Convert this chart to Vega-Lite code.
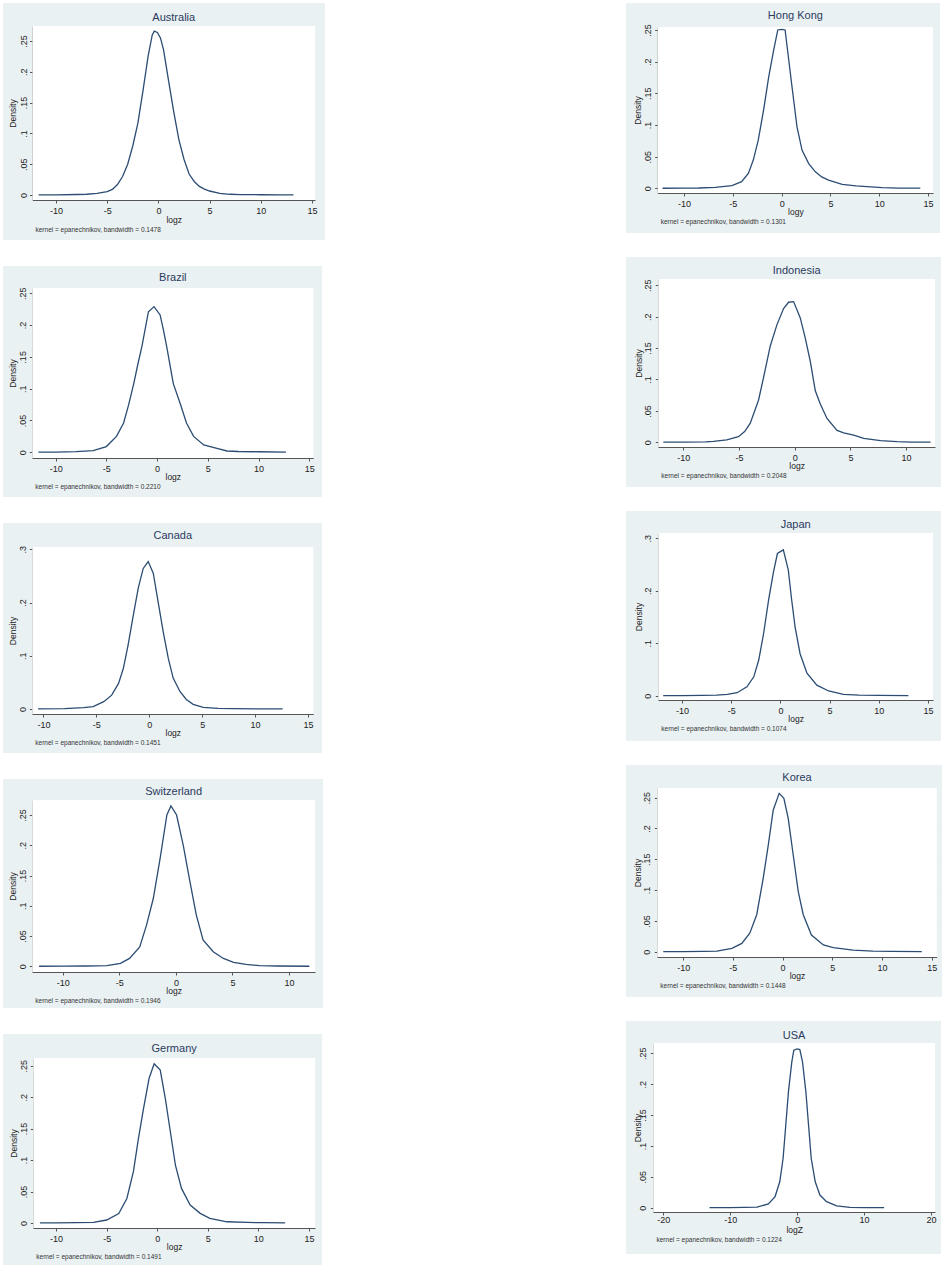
{
"$schema": "https://vega.github.io/schema/vega-lite/v6.json",
"padding": {"left": 3, "top": 3, "right": 0, "bottom": 0},
"background": "white",
"config": {
  "view": {"fill": "#eaf1f3", "stroke": null},
  "font": "Liberation Sans",
  "line": {"color": "#2b4c73", "strokeWidth": 1.3},
  "rect": {"color": "white"},
  "title": {"font": "Liberation Sans", "fontSize": 11, "fontWeight": "normal", "color": "#2a3b5e", "anchor": "middle", "frame": "group", "baseline": "alphabetic"},
  "axis": {"labelFont": "Liberation Sans", "titleFont": "Liberation Sans", "labelColor": "#222222", "titleColor": "#222222", "domainColor": "#555555", "tickColor": "#555555", "gridColor": "#e2eaed", "titleFontWeight": "normal", "labelFontSize": 9, "titleFontSize": 8.5, "tickSize": 3, "labelFlush": false, "labelOverlap": false, "zindex": 1}
},
"datasets": {"d": [
{"c":"Australia","x":-11.7,"y":0.0001},{"c":"Australia","x":-10,"y":0.0003},{"c":"Australia","x":-8,"y":0.0008},{"c":"Australia","x":-7,"y":0.0012},{"c":"Australia","x":-6,"y":0.0025},{"c":"Australia","x":-5,"y":0.0055},{"c":"Australia","x":-4.5,"y":0.009},{"c":"Australia","x":-4,"y":0.017},{"c":"Australia","x":-3.5,"y":0.03},{"c":"Australia","x":-3,"y":0.05},{"c":"Australia","x":-2.5,"y":0.08},{"c":"Australia","x":-2,"y":0.117},{"c":"Australia","x":-1.5,"y":0.17},{"c":"Australia","x":-1,"y":0.226},{"c":"Australia","x":-0.6,"y":0.26},{"c":"Australia","x":-0.4,"y":0.266},{"c":"Australia","x":-0.1,"y":0.264},{"c":"Australia","x":0.2,"y":0.255},{"c":"Australia","x":0.5,"y":0.236},{"c":"Australia","x":1,"y":0.185},{"c":"Australia","x":1.5,"y":0.135},{"c":"Australia","x":2,"y":0.09},{"c":"Australia","x":2.5,"y":0.058},{"c":"Australia","x":3,"y":0.034},{"c":"Australia","x":3.5,"y":0.022},{"c":"Australia","x":4,"y":0.014},{"c":"Australia","x":4.5,"y":0.0095},{"c":"Australia","x":5,"y":0.0065},{"c":"Australia","x":6,"y":0.0028},{"c":"Australia","x":7,"y":0.0012},{"c":"Australia","x":8,"y":0.0007},{"c":"Australia","x":10,"y":0.0004},{"c":"Australia","x":12,"y":0.0002},{"c":"Australia","x":13.2,"y":0.0001},
{"c":"Hong Kong","x":-12.2,"y":0.0001},{"c":"Hong Kong","x":-10,"y":0.0003},{"c":"Hong Kong","x":-8.5,"y":0.0005},{"c":"Hong Kong","x":-6.8,"y":0.0016},{"c":"Hong Kong","x":-5.1,"y":0.0042},{"c":"Hong Kong","x":-4.1,"y":0.0105},{"c":"Hong Kong","x":-3.4,"y":0.024},{"c":"Hong Kong","x":-2.9,"y":0.045},{"c":"Hong Kong","x":-2.4,"y":0.076},{"c":"Hong Kong","x":-1.85,"y":0.124},{"c":"Hong Kong","x":-1.33,"y":0.176},{"c":"Hong Kong","x":-0.82,"y":0.218},{"c":"Hong Kong","x":-0.4,"y":0.25},{"c":"Hong Kong","x":0,"y":0.251},{"c":"Hong Kong","x":0.35,"y":0.25},{"c":"Hong Kong","x":0.72,"y":0.203},{"c":"Hong Kong","x":1.06,"y":0.16},{"c":"Hong Kong","x":1.57,"y":0.097},{"c":"Hong Kong","x":2.09,"y":0.06},{"c":"Hong Kong","x":2.77,"y":0.039},{"c":"Hong Kong","x":3.45,"y":0.026},{"c":"Hong Kong","x":4.1,"y":0.018},{"c":"Hong Kong","x":4.8,"y":0.013},{"c":"Hong Kong","x":6.2,"y":0.0063},{"c":"Hong Kong","x":7.6,"y":0.0037},{"c":"Hong Kong","x":10.3,"y":0.001},{"c":"Hong Kong","x":12,"y":0.0004},{"c":"Hong Kong","x":14.2,"y":0.0002},
{"c":"Brazil","x":-11.7,"y":0.0001},{"c":"Brazil","x":-10,"y":0.0003},{"c":"Brazil","x":-8,"y":0.001},{"c":"Brazil","x":-6.3,"y":0.0026},{"c":"Brazil","x":-5,"y":0.009},{"c":"Brazil","x":-4,"y":0.025},{"c":"Brazil","x":-3.3,"y":0.046},{"c":"Brazil","x":-2.8,"y":0.075},{"c":"Brazil","x":-2.3,"y":0.108},{"c":"Brazil","x":-1.9,"y":0.138},{"c":"Brazil","x":-1.5,"y":0.166},{"c":"Brazil","x":-1.1,"y":0.2},{"c":"Brazil","x":-0.85,"y":0.221},{"c":"Brazil","x":-0.3,"y":0.229},{"c":"Brazil","x":0.3,"y":0.216},{"c":"Brazil","x":0.63,"y":0.192},{"c":"Brazil","x":0.95,"y":0.166},{"c":"Brazil","x":1.6,"y":0.108},{"c":"Brazil","x":2.27,"y":0.077},{"c":"Brazil","x":2.9,"y":0.046},{"c":"Brazil","x":3.6,"y":0.025},{"c":"Brazil","x":4.6,"y":0.0115},{"c":"Brazil","x":5.9,"y":0.006},{"c":"Brazil","x":6.9,"y":0.002},{"c":"Brazil","x":8,"y":0.0012},{"c":"Brazil","x":10,"y":0.0008},{"c":"Brazil","x":12.7,"y":0.0002},
{"c":"Indonesia","x":-11.8,"y":0.0002},{"c":"Indonesia","x":-10,"y":0.0003},{"c":"Indonesia","x":-8,"y":0.0008},{"c":"Indonesia","x":-7.3,"y":0.0016},{"c":"Indonesia","x":-6.1,"y":0.0037},{"c":"Indonesia","x":-5.05,"y":0.009},{"c":"Indonesia","x":-4.5,"y":0.017},{"c":"Indonesia","x":-4,"y":0.03},{"c":"Indonesia","x":-3.25,"y":0.067},{"c":"Indonesia","x":-2.8,"y":0.103},{"c":"Indonesia","x":-2.2,"y":0.153},{"c":"Indonesia","x":-1.6,"y":0.187},{"c":"Indonesia","x":-1,"y":0.213},{"c":"Indonesia","x":-0.55,"y":0.223},{"c":"Indonesia","x":-0.1,"y":0.224},{"c":"Indonesia","x":0.5,"y":0.198},{"c":"Indonesia","x":0.95,"y":0.166},{"c":"Indonesia","x":1.4,"y":0.129},{"c":"Indonesia","x":1.85,"y":0.082},{"c":"Indonesia","x":2.3,"y":0.061},{"c":"Indonesia","x":2.9,"y":0.038},{"c":"Indonesia","x":3.8,"y":0.019},{"c":"Indonesia","x":4.4,"y":0.015},{"c":"Indonesia","x":5.3,"y":0.0115},{"c":"Indonesia","x":6.2,"y":0.0063},{"c":"Indonesia","x":7.7,"y":0.0026},{"c":"Indonesia","x":9.2,"y":0.001},{"c":"Indonesia","x":10.5,"y":0.0004},{"c":"Indonesia","x":12.2,"y":0.0002},
{"c":"Canada","x":-10.5,"y":0.0001},{"c":"Canada","x":-8,"y":0.0008},{"c":"Canada","x":-6.2,"y":0.0025},{"c":"Canada","x":-5.3,"y":0.0044},{"c":"Canada","x":-4.3,"y":0.0138},{"c":"Canada","x":-3.55,"y":0.026},{"c":"Canada","x":-2.9,"y":0.048},{"c":"Canada","x":-2.45,"y":0.076},{"c":"Canada","x":-2,"y":0.12},{"c":"Canada","x":-1.5,"y":0.177},{"c":"Canada","x":-1.04,"y":0.227},{"c":"Canada","x":-0.57,"y":0.264},{"c":"Canada","x":-0.1,"y":0.277},{"c":"Canada","x":0.38,"y":0.255},{"c":"Canada","x":0.85,"y":0.2},{"c":"Canada","x":1.32,"y":0.145},{"c":"Canada","x":1.8,"y":0.095},{"c":"Canada","x":2.26,"y":0.058},{"c":"Canada","x":2.9,"y":0.033},{"c":"Canada","x":3.5,"y":0.018},{"c":"Canada","x":4.15,"y":0.0088},{"c":"Canada","x":5.1,"y":0.003},{"c":"Canada","x":6.5,"y":0.0012},{"c":"Canada","x":8,"y":0.0006},{"c":"Canada","x":10,"y":0.0003},{"c":"Canada","x":12.6,"y":0.0001},
{"c":"Japan","x":-11.9,"y":0.0001},{"c":"Japan","x":-10,"y":0.0002},{"c":"Japan","x":-8,"y":0.0005},{"c":"Japan","x":-6.5,"y":0.001},{"c":"Japan","x":-5.4,"y":0.0025},{"c":"Japan","x":-4.4,"y":0.0057},{"c":"Japan","x":-3.4,"y":0.017},{"c":"Japan","x":-2.7,"y":0.036},{"c":"Japan","x":-2.2,"y":0.068},{"c":"Japan","x":-1.7,"y":0.119},{"c":"Japan","x":-1.2,"y":0.182},{"c":"Japan","x":-0.7,"y":0.236},{"c":"Japan","x":-0.3,"y":0.271},{"c":"Japan","x":0.3,"y":0.278},{"c":"Japan","x":0.8,"y":0.24},{"c":"Japan","x":1.15,"y":0.182},{"c":"Japan","x":1.5,"y":0.13},{"c":"Japan","x":2,"y":0.08},{"c":"Japan","x":2.7,"y":0.043},{"c":"Japan","x":3.7,"y":0.02},{"c":"Japan","x":4.9,"y":0.009},{"c":"Japan","x":6.4,"y":0.0025},{"c":"Japan","x":8,"y":0.001},{"c":"Japan","x":10,"y":0.0005},{"c":"Japan","x":13,"y":0.0002},
{"c":"Switzerland","x":-12.1,"y":0.0001},{"c":"Switzerland","x":-10,"y":0.0002},{"c":"Switzerland","x":-8,"y":0.0005},{"c":"Switzerland","x":-6.1,"y":0.001},{"c":"Switzerland","x":-4.9,"y":0.005},{"c":"Switzerland","x":-4.1,"y":0.013},{"c":"Switzerland","x":-3.2,"y":0.032},{"c":"Switzerland","x":-2.6,"y":0.068},{"c":"Switzerland","x":-2,"y":0.112},{"c":"Switzerland","x":-1.4,"y":0.178},{"c":"Switzerland","x":-0.8,"y":0.25},{"c":"Switzerland","x":-0.44,"y":0.265},{"c":"Switzerland","x":0.06,"y":0.25},{"c":"Switzerland","x":0.65,"y":0.2},{"c":"Switzerland","x":1.24,"y":0.14},{"c":"Switzerland","x":1.8,"y":0.085},{"c":"Switzerland","x":2.4,"y":0.0435},{"c":"Switzerland","x":3.3,"y":0.024},{"c":"Switzerland","x":4.2,"y":0.013},{"c":"Switzerland","x":5.1,"y":0.0066},{"c":"Switzerland","x":6.2,"y":0.0033},{"c":"Switzerland","x":7.4,"y":0.0011},{"c":"Switzerland","x":9,"y":0.0005},{"c":"Switzerland","x":11.8,"y":0.0001},
{"c":"Korea","x":-12,"y":0.0001},{"c":"Korea","x":-10,"y":0.0002},{"c":"Korea","x":-8,"y":0.0005},{"c":"Korea","x":-6.6,"y":0.001},{"c":"Korea","x":-5.1,"y":0.0054},{"c":"Korea","x":-4.1,"y":0.0135},{"c":"Korea","x":-3.3,"y":0.03},{"c":"Korea","x":-2.6,"y":0.06},{"c":"Korea","x":-1.95,"y":0.119},{"c":"Korea","x":-1.44,"y":0.173},{"c":"Korea","x":-0.94,"y":0.23},{"c":"Korea","x":-0.34,"y":0.257},{"c":"Korea","x":0.13,"y":0.249},{"c":"Korea","x":0.57,"y":0.216},{"c":"Korea","x":1.07,"y":0.157},{"c":"Korea","x":1.58,"y":0.097},{"c":"Korea","x":2.08,"y":0.06},{"c":"Korea","x":2.9,"y":0.027},{"c":"Korea","x":4.1,"y":0.011},{"c":"Korea","x":5.1,"y":0.0065},{"c":"Korea","x":7.1,"y":0.0027},{"c":"Korea","x":9.1,"y":0.001},{"c":"Korea","x":11,"y":0.0005},{"c":"Korea","x":14,"y":0.0002},
{"c":"Germany","x":-11.6,"y":0.0001},{"c":"Germany","x":-10,"y":0.0002},{"c":"Germany","x":-8,"y":0.0005},{"c":"Germany","x":-6.3,"y":0.001},{"c":"Germany","x":-5,"y":0.0048},{"c":"Germany","x":-3.8,"y":0.015},{"c":"Germany","x":-3,"y":0.039},{"c":"Germany","x":-2.35,"y":0.082},{"c":"Germany","x":-1.85,"y":0.135},{"c":"Germany","x":-1.35,"y":0.182},{"c":"Germany","x":-0.8,"y":0.23},{"c":"Germany","x":-0.3,"y":0.253},{"c":"Germany","x":0.3,"y":0.243},{"c":"Germany","x":0.8,"y":0.198},{"c":"Germany","x":1.3,"y":0.145},{"c":"Germany","x":1.8,"y":0.092},{"c":"Germany","x":2.4,"y":0.055},{"c":"Germany","x":3.26,"y":0.0286},{"c":"Germany","x":4.25,"y":0.0154},{"c":"Germany","x":5.2,"y":0.0074},{"c":"Germany","x":6.9,"y":0.002},{"c":"Germany","x":8.9,"y":0.001},{"c":"Germany","x":10.5,"y":0.0005},{"c":"Germany","x":12.65,"y":0.0002},
{"c":"USA","x":-13.1,"y":0.0001},{"c":"USA","x":-10,"y":0.0002},{"c":"USA","x":-8,"y":0.0004},{"c":"USA","x":-6,"y":0.001},{"c":"USA","x":-4.3,"y":0.006},{"c":"USA","x":-3.3,"y":0.018},{"c":"USA","x":-2.6,"y":0.042},{"c":"USA","x":-2.1,"y":0.08},{"c":"USA","x":-1.7,"y":0.134},{"c":"USA","x":-1.3,"y":0.188},{"c":"USA","x":-0.8,"y":0.236},{"c":"USA","x":-0.5,"y":0.255},{"c":"USA","x":0,"y":0.257},{"c":"USA","x":0.4,"y":0.256},{"c":"USA","x":0.8,"y":0.236},{"c":"USA","x":1.3,"y":0.188},{"c":"USA","x":1.7,"y":0.134},{"c":"USA","x":2.1,"y":0.08},{"c":"USA","x":2.7,"y":0.042},{"c":"USA","x":3.4,"y":0.0205},{"c":"USA","x":4.4,"y":0.0097},{"c":"USA","x":5.9,"y":0.003},{"c":"USA","x":7.9,"y":0.0005},{"c":"USA","x":10,"y":0.0002},{"c":"USA","x":13,"y":0.0001}
]},
"spacing": 301,
"hconcat": [
{"spacing": 26, "vconcat": [
{"width": 322, "height": 237, "title": {"text": "Australia", "offset": -19.7, "dx": 9.75},
 "resolve": {"axis": {"x": "independent", "y": "independent"}},
 "layer": [
  {"data": {"values": [{}]}, "mark": {"type": "rect"},
   "encoding": {"x": {"datum": -12.3, "type": "quantitative", "axis": {"orient": "bottom", "offset": -40, "title": "kernel = epanechnikov, bandwidth = 0.1478", "labels": false, "ticks": false, "domain": false, "grid": false, "titleX": 32, "titleY": 31, "titleAlign": "left", "titleBaseline": "alphabetic", "titleFontSize": 6.5, "titleColor": "#333333"}},
    "x2": {"datum": 15.3}, "y": {"datum": -0.0081, "type": "quantitative", "axis": null}, "y2": {"datum": 0.2744}}},
  {"data": {"name": "d"}, "transform": [{"filter": "datum.c === 'Australia'"}], "mark": {"type": "line"},
   "encoding": {
    "x": {"field": "x", "type": "quantitative", "scale": {"domain": [-12.3, 15.3], "range": [29.5, 312], "nice": false, "zero": false}, "axis": {"orient": "bottom", "offset": -40, "values": [-10,-5,0,5,10,15], "labelExpr": "'' + datum.value", "labelPadding": 3.5, "grid": false, "title": "logz", "titleY": 22, "titleBaseline": "alphabetic"}},
    "y": {"field": "y", "type": "quantitative", "scale": {"domain": [-0.0081, 0.2744], "range": [197, 23], "nice": false, "zero": false}, "axis": {"orient": "left", "offset": -29.5, "values": [0,0.05,0.1,0.15,0.2,0.25], "labelExpr": "datum.value === 0 ? '0' : replace(format(datum.value, '.2~f'), '0.', '.')", "labelAngle": -90, "labelAlign": "center", "labelBaseline": "alphabetic", "labelPadding": 3.5, "grid": true, "title": "Density", "titleX": -17, "titleBaseline": "alphabetic"}}}}
 ]},
{"width": 319, "height": 231, "title": {"text": "Brazil", "offset": -17.3, "dx": 10.3},
 "resolve": {"axis": {"x": "independent", "y": "independent"}},
 "layer": [
  {"data": {"values": [{}]}, "mark": {"type": "rect"},
   "encoding": {"x": {"datum": -12.3, "type": "quantitative", "axis": {"orient": "bottom", "offset": -39, "title": "kernel = epanechnikov, bandwidth = 0.2210", "labels": false, "ticks": false, "domain": false, "grid": false, "titleX": 31.8, "titleY": 30.5, "titleAlign": "left", "titleBaseline": "alphabetic", "titleFontSize": 6.5, "titleColor": "#333333"}},
    "x2": {"datum": 15.4}, "y": {"datum": -0.009, "type": "quantitative", "axis": null}, "y2": {"datum": 0.2583}}},
  {"data": {"name": "d"}, "transform": [{"filter": "datum.c === 'Brazil'"}], "mark": {"type": "line"},
   "encoding": {
    "x": {"field": "x", "type": "quantitative", "scale": {"domain": [-12.3, 15.4], "range": [29.3, 310.3], "nice": false, "zero": false}, "axis": {"orient": "bottom", "offset": -39, "values": [-10,-5,0,5,10,15], "labelExpr": "'' + datum.value", "labelPadding": 3.5, "grid": false, "title": "logz", "titleY": 21.5, "titleBaseline": "alphabetic"}},
    "y": {"field": "y", "type": "quantitative", "scale": {"domain": [-0.009, 0.2583], "range": [192, 22], "nice": false, "zero": false}, "axis": {"orient": "left", "offset": -29.3, "values": [0,0.05,0.1,0.15,0.2,0.25], "labelExpr": "datum.value === 0 ? '0' : replace(format(datum.value, '.2~f'), '0.', '.')", "labelAngle": -90, "labelAlign": "center", "labelBaseline": "alphabetic", "labelPadding": 3.5, "grid": true, "title": "Density", "titleX": -17, "titleBaseline": "alphabetic"}}}}
 ]},
{"width": 319, "height": 230, "title": {"text": "Canada", "offset": -18, "dx": 10.3},
 "resolve": {"axis": {"x": "independent", "y": "independent"}},
 "layer": [
  {"data": {"values": [{}]}, "mark": {"type": "rect"},
   "encoding": {"x": {"datum": -11.05, "type": "quantitative", "axis": {"orient": "bottom", "offset": -39, "title": "kernel = epanechnikov, bandwidth = 0.1451", "labels": false, "ticks": false, "domain": false, "grid": false, "titleX": 31.8, "titleY": 30.5, "titleAlign": "left", "titleBaseline": "alphabetic", "titleFontSize": 6.5, "titleColor": "#333333"}},
    "x2": {"datum": 15.5}, "y": {"datum": -0.0094, "type": "quantitative", "axis": null}, "y2": {"datum": 0.3043}}},
  {"data": {"name": "d"}, "transform": [{"filter": "datum.c === 'Canada'"}], "mark": {"type": "line"},
   "encoding": {
    "x": {"field": "x", "type": "quantitative", "scale": {"domain": [-11.05, 15.5], "range": [29.3, 310.3], "nice": false, "zero": false}, "axis": {"orient": "bottom", "offset": -39, "values": [-10,-5,0,5,10,15], "labelExpr": "'' + datum.value", "labelPadding": 3.5, "grid": false, "title": "logz", "titleY": 21.5, "titleBaseline": "alphabetic"}},
    "y": {"field": "y", "type": "quantitative", "scale": {"domain": [-0.0094, 0.3043], "range": [191, 24], "nice": false, "zero": false}, "axis": {"orient": "left", "offset": -29.3, "values": [0,0.1,0.2,0.3], "labelExpr": "datum.value === 0 ? '0' : replace(format(datum.value, '.2~f'), '0.', '.')", "labelAngle": -90, "labelAlign": "center", "labelBaseline": "alphabetic", "labelPadding": 3.5, "grid": true, "title": "Density", "titleX": -17, "titleBaseline": "alphabetic"}}}}
 ]},
{"width": 320, "height": 229, "title": {"text": "Switzerland", "offset": -17.7, "dx": 10.65},
 "resolve": {"axis": {"x": "independent", "y": "independent"}},
 "layer": [
  {"data": {"values": [{}]}, "mark": {"type": "rect"},
   "encoding": {"x": {"datum": -12.7, "type": "quantitative", "axis": {"orient": "bottom", "offset": -36, "title": "kernel = epanechnikov, bandwidth = 0.1946", "labels": false, "ticks": false, "domain": false, "grid": false, "titleX": 31.8, "titleY": 30.5, "titleAlign": "left", "titleBaseline": "alphabetic", "titleFontSize": 6.5, "titleColor": "#333333"}},
    "x2": {"datum": 12.3}, "y": {"datum": -0.0094, "type": "quantitative", "axis": null}, "y2": {"datum": 0.2748}}},
  {"data": {"name": "d"}, "transform": [{"filter": "datum.c === 'Switzerland'"}], "mark": {"type": "line"},
   "encoding": {
    "x": {"field": "x", "type": "quantitative", "scale": {"domain": [-12.7, 12.3], "range": [29.3, 312], "nice": false, "zero": false}, "axis": {"orient": "bottom", "offset": -36, "values": [-10,-5,0,5,10], "labelExpr": "'' + datum.value", "labelPadding": 3.5, "grid": false, "title": "logz", "titleY": 21.5, "titleBaseline": "alphabetic"}},
    "y": {"field": "y", "type": "quantitative", "scale": {"domain": [-0.0094, 0.2748], "range": [193, 21], "nice": false, "zero": false}, "axis": {"orient": "left", "offset": -29.3, "values": [0,0.05,0.1,0.15,0.2,0.25], "labelExpr": "datum.value === 0 ? '0' : replace(format(datum.value, '.2~f'), '0.', '.')", "labelAngle": -90, "labelAlign": "center", "labelBaseline": "alphabetic", "labelPadding": 3.5, "grid": true, "title": "Density", "titleX": -17, "titleBaseline": "alphabetic"}}}}
 ]},
{"width": 319, "height": 231, "title": {"text": "Germany", "offset": -20.3, "dx": 11.65},
 "resolve": {"axis": {"x": "independent", "y": "independent"}},
 "layer": [
  {"data": {"values": [{}]}, "mark": {"type": "rect"},
   "encoding": {"x": {"datum": -12.25, "type": "quantitative", "axis": {"orient": "bottom", "offset": -37, "title": "kernel = epanechnikov, bandwidth = 0.1491", "labels": false, "ticks": false, "domain": false, "grid": false, "titleX": 32.8, "titleY": 30.5, "titleAlign": "left", "titleBaseline": "alphabetic", "titleFontSize": 6.5, "titleColor": "#333333"}},
    "x2": {"datum": 15.6}, "y": {"datum": -0.0079, "type": "quantitative", "axis": null}, "y2": {"datum": 0.2622}}},
  {"data": {"name": "d"}, "transform": [{"filter": "datum.c === 'Germany'"}], "mark": {"type": "line"},
   "encoding": {
    "x": {"field": "x", "type": "quantitative", "scale": {"domain": [-12.25, 15.6], "range": [30.3, 312], "nice": false, "zero": false}, "axis": {"orient": "bottom", "offset": -37, "values": [-10,-5,0,5,10,15], "labelExpr": "'' + datum.value", "labelPadding": 3.5, "grid": false, "title": "logz", "titleY": 21.5, "titleBaseline": "alphabetic"}},
    "y": {"field": "y", "type": "quantitative", "scale": {"domain": [-0.0079, 0.2622], "range": [194, 24], "nice": false, "zero": false}, "axis": {"orient": "left", "offset": -30.3, "values": [0,0.05,0.1,0.15,0.2,0.25], "labelExpr": "datum.value === 0 ? '0' : replace(format(datum.value, '.2~f'), '0.', '.')", "labelAngle": -90, "labelAlign": "center", "labelBaseline": "alphabetic", "labelPadding": 3.5, "grid": true, "title": "Density", "titleX": -17, "titleBaseline": "alphabetic"}}}}
 ]}
]},
{"spacing": 24, "vconcat": [
{"width": 314, "height": 230, "title": {"text": "Hong Kong", "offset": -17.7, "dx": 12.35},
 "resolve": {"axis": {"x": "independent", "y": "independent"}},
 "layer": [
  {"data": {"values": [{}]}, "mark": {"type": "rect"},
   "encoding": {"x": {"datum": -12.7, "type": "quantitative", "axis": {"orient": "bottom", "offset": -40, "title": "kernel = epanechnikov, bandwidth = 0.1301", "labels": false, "ticks": false, "domain": false, "grid": false, "titleX": 34.2, "titleY": 30.5, "titleAlign": "left", "titleBaseline": "alphabetic", "titleFontSize": 6.5, "titleColor": "#333333"}},
    "x2": {"datum": 15.5}, "y": {"datum": -0.0074, "type": "quantitative", "axis": null}, "y2": {"datum": 0.2547}}},
  {"data": {"name": "d"}, "transform": [{"filter": "datum.c === 'Hong Kong'"}], "mark": {"type": "line"},
   "encoding": {
    "x": {"field": "x", "type": "quantitative", "scale": {"domain": [-12.7, 15.5], "range": [31.7, 307], "nice": false, "zero": false}, "axis": {"orient": "bottom", "offset": -40, "values": [-10,-5,0,5,10,15], "labelExpr": "'' + datum.value", "labelPadding": 3.5, "grid": false, "title": "logy", "titleY": 21.5, "titleBaseline": "alphabetic"}},
    "y": {"field": "y", "type": "quantitative", "scale": {"domain": [-0.0074, 0.2547], "range": [190, 24], "nice": false, "zero": false}, "axis": {"orient": "left", "offset": -31.7, "values": [0,0.05,0.1,0.15,0.2,0.25], "labelExpr": "datum.value === 0 ? '0' : replace(format(datum.value, '.2~f'), '0.', '.')", "labelAngle": -90, "labelAlign": "center", "labelBaseline": "alphabetic", "labelPadding": 4.5, "grid": true, "title": "Density", "titleX": -17, "titleBaseline": "alphabetic"}}}}
 ]},
{"width": 315, "height": 230, "title": {"text": "Indonesia", "offset": -18.7, "dx": 13.15},
 "resolve": {"axis": {"x": "independent", "y": "independent"}},
 "layer": [
  {"data": {"values": [{}]}, "mark": {"type": "rect"},
   "encoding": {"x": {"datum": -12.25, "type": "quantitative", "axis": {"orient": "bottom", "offset": -40, "title": "kernel = epanechnikov, bandwidth = 0.2048", "labels": false, "ticks": false, "domain": false, "grid": false, "titleX": 34.8, "titleY": 30.5, "titleAlign": "left", "titleBaseline": "alphabetic", "titleFontSize": 6.5, "titleColor": "#333333"}},
    "x2": {"datum": 12.6}, "y": {"datum": -0.0075, "type": "quantitative", "axis": null}, "y2": {"datum": 0.26}}},
  {"data": {"name": "d"}, "transform": [{"filter": "datum.c === 'Indonesia'"}], "mark": {"type": "line"},
   "encoding": {
    "x": {"field": "x", "type": "quantitative", "scale": {"domain": [-12.25, 12.6], "range": [32.3, 309], "nice": false, "zero": false}, "axis": {"orient": "bottom", "offset": -40, "values": [-10,-5,0,5,10], "labelExpr": "'' + datum.value", "labelPadding": 3.5, "grid": false, "title": "logz", "titleY": 21.5, "titleBaseline": "alphabetic"}},
    "y": {"field": "y", "type": "quantitative", "scale": {"domain": [-0.0075, 0.26], "range": [190, 22], "nice": false, "zero": false}, "axis": {"orient": "left", "offset": -32.3, "values": [0,0.05,0.1,0.15,0.2,0.25], "labelExpr": "datum.value === 0 ? '0' : replace(format(datum.value, '.2~f'), '0.', '.')", "labelAngle": -90, "labelAlign": "center", "labelBaseline": "alphabetic", "labelPadding": 4.5, "grid": true, "title": "Density", "titleX": -17, "titleBaseline": "alphabetic"}}}}
 ]},
{"width": 315, "height": 230, "title": {"text": "Japan", "offset": -19, "dx": 12.15},
 "resolve": {"axis": {"x": "independent", "y": "independent"}},
 "layer": [
  {"data": {"values": [{}]}, "mark": {"type": "rect"},
   "encoding": {"x": {"datum": -12.4, "type": "quantitative", "axis": {"orient": "bottom", "offset": -41, "title": "kernel = epanechnikov, bandwidth = 0.1074", "labels": false, "ticks": false, "domain": false, "grid": false, "titleX": 34.8, "titleY": 30.5, "titleAlign": "left", "titleBaseline": "alphabetic", "titleFontSize": 6.5, "titleColor": "#333333"}},
    "x2": {"datum": 15.5}, "y": {"datum": -0.0082, "type": "quantitative", "axis": null}, "y2": {"datum": 0.3101}}},
  {"data": {"name": "d"}, "transform": [{"filter": "datum.c === 'Japan'"}], "mark": {"type": "line"},
   "encoding": {
    "x": {"field": "x", "type": "quantitative", "scale": {"domain": [-12.4, 15.5], "range": [32.3, 307], "nice": false, "zero": false}, "axis": {"orient": "bottom", "offset": -41, "values": [-10,-5,0,5,10,15], "labelExpr": "'' + datum.value", "labelPadding": 3.5, "grid": false, "title": "logz", "titleY": 21.5, "titleBaseline": "alphabetic"}},
    "y": {"field": "y", "type": "quantitative", "scale": {"domain": [-0.0082, 0.3101], "range": [189, 22], "nice": false, "zero": false}, "axis": {"orient": "left", "offset": -32.3, "values": [0,0.1,0.2,0.3], "labelExpr": "datum.value === 0 ? '0' : replace(format(datum.value, '.2~f'), '0.', '.')", "labelAngle": -90, "labelAlign": "center", "labelBaseline": "alphabetic", "labelPadding": 4.5, "grid": true, "title": "Density", "titleX": -17, "titleBaseline": "alphabetic"}}}}
 ]},
{"width": 316, "height": 232, "title": {"text": "Korea", "offset": -18.3, "dx": 13},
 "resolve": {"axis": {"x": "independent", "y": "independent"}},
 "layer": [
  {"data": {"values": [{}]}, "mark": {"type": "rect"},
   "encoding": {"x": {"datum": -12.6, "type": "quantitative", "axis": {"orient": "bottom", "offset": -40, "title": "kernel = epanechnikov, bandwidth = 0.1448", "labels": false, "ticks": false, "domain": false, "grid": false, "titleX": 33.8, "titleY": 30.5, "titleAlign": "left", "titleBaseline": "alphabetic", "titleFontSize": 6.5, "titleColor": "#333333"}},
    "x2": {"datum": 15.5}, "y": {"datum": -0.0086, "type": "quantitative", "axis": null}, "y2": {"datum": 0.2657}}},
  {"data": {"name": "d"}, "transform": [{"filter": "datum.c === 'Korea'"}], "mark": {"type": "line"},
   "encoding": {
    "x": {"field": "x", "type": "quantitative", "scale": {"domain": [-12.6, 15.5], "range": [31.3, 310.7], "nice": false, "zero": false}, "axis": {"orient": "bottom", "offset": -40, "values": [-10,-5,0,5,10,15], "labelExpr": "'' + datum.value", "labelPadding": 3.5, "grid": false, "title": "logz", "titleY": 21.5, "titleBaseline": "alphabetic"}},
    "y": {"field": "y", "type": "quantitative", "scale": {"domain": [-0.0086, 0.2657], "range": [192, 23], "nice": false, "zero": false}, "axis": {"orient": "left", "offset": -31.3, "values": [0,0.05,0.1,0.15,0.2,0.25], "labelExpr": "datum.value === 0 ? '0' : replace(format(datum.value, '.2~f'), '0.', '.')", "labelAngle": -90, "labelAlign": "center", "labelBaseline": "alphabetic", "labelPadding": 4.5, "grid": true, "title": "Density", "titleX": -17, "titleBaseline": "alphabetic"}}}}
 ]},
{"width": 315, "height": 233, "title": {"text": "USA", "offset": -20, "dx": 10.65},
 "resolve": {"axis": {"x": "independent", "y": "independent"}},
 "layer": [
  {"data": {"values": [{}]}, "mark": {"type": "rect"},
   "encoding": {"x": {"datum": -21.5, "type": "quantitative", "axis": {"orient": "bottom", "offset": -42, "title": "kernel = epanechnikov, bandwidth = 0.1224", "labels": false, "ticks": false, "domain": false, "grid": false, "titleX": 30, "titleY": 29.5, "titleAlign": "left", "titleBaseline": "alphabetic", "titleFontSize": 6.5, "titleColor": "#333333"}},
    "x2": {"datum": 20.6}, "y": {"datum": -0.007, "type": "quantitative", "axis": null}, "y2": {"datum": 0.2667}}},
  {"data": {"name": "d"}, "transform": [{"filter": "datum.c === 'USA'"}], "mark": {"type": "line"},
   "encoding": {
    "x": {"field": "x", "type": "quantitative", "scale": {"domain": [-21.5, 20.6], "range": [27.3, 309], "nice": false, "zero": false}, "axis": {"orient": "bottom", "offset": -42, "values": [-20,-10,0,10,20], "labelExpr": "'' + datum.value", "labelPadding": 0.5, "grid": false, "title": "logZ", "titleY": 20, "titleBaseline": "alphabetic"}},
    "y": {"field": "y", "type": "quantitative", "scale": {"domain": [-0.007, 0.2667], "range": [191, 22], "nice": false, "zero": false}, "axis": {"orient": "left", "offset": -27.3, "values": [0,0.05,0.1,0.15,0.2,0.25], "labelExpr": "datum.value === 0 ? '0' : replace(format(datum.value, '.2~f'), '0.', '.')", "labelAngle": -90, "labelAlign": "center", "labelBaseline": "alphabetic", "labelPadding": 4.5, "grid": true, "title": "Density", "titleX": -12.5, "titleBaseline": "alphabetic"}}}}
 ]}
]}
]
}
